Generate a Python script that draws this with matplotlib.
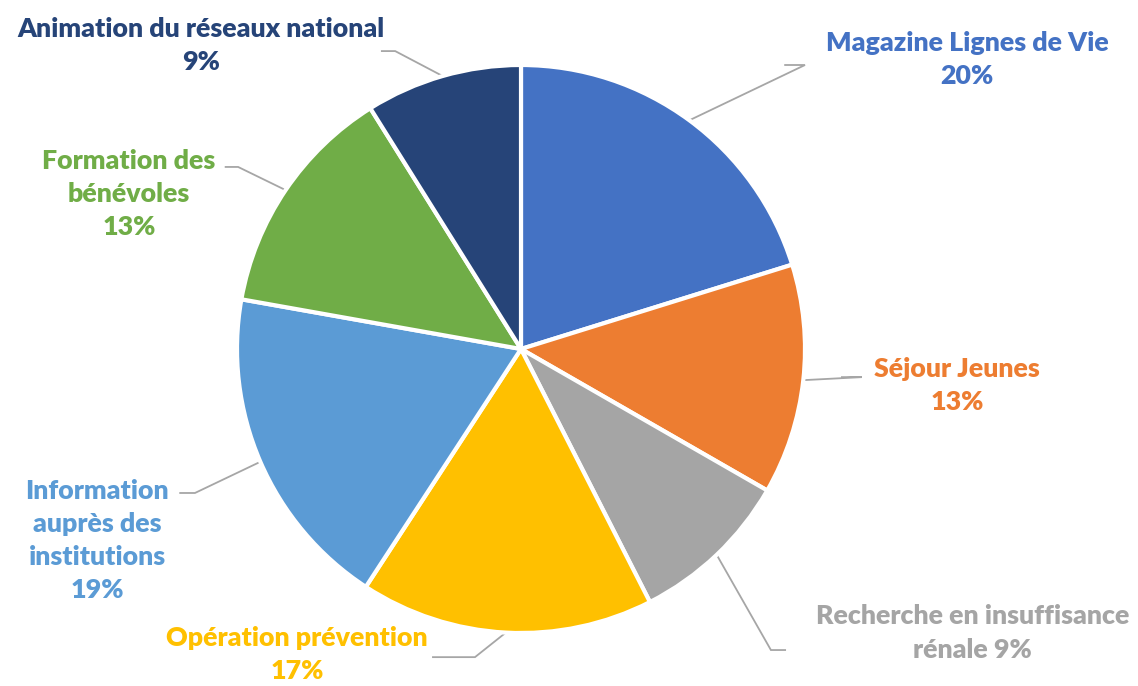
import matplotlib
matplotlib.use('Agg')
import matplotlib.pyplot as plt
import numpy as np

# Données (sens horaire depuis le haut)
categories = ['Magazine Lignes de Vie', 'Séjour Jeunes', 'Recherche en insuffisance\nrénale',
              'Opération prévention', 'Information\nauprès des\ninstitutions',
              'Formation des\nbénévoles', 'Animation du réseaux national']
values = [20.2, 13.1, 9.2, 16.7, 18.6, 13.3, 8.9]
pct_labels = ['20%', '13%', '9%', '17%', '19%', '13%', '9%']
colors = ['#4472C4', '#ED7D31', '#A5A5A5', '#FFC000', '#5B9BD5', '#70AD47', '#264478']

# mise en page des étiquettes (centre du texte, coude de la ligne de rappel)
label_pos = [(1.57, 1.02), (1.535, -0.127), (1.591, -1.0), (-0.789, -1.077),
             (-1.493, -0.676), (-1.380, 0.546), (-1.127, 1.070)]
elbow = [(1.0, 1.0), (1.20, -0.099), (0.88, -1.060), (-0.162, -1.085),
         (-1.148, -0.507), (-0.996, 0.641), (-0.443, 1.049)]
text_end = [(0.93, 1.0), (1.13, -0.099), (0.93, -1.060), (-0.31, -1.085),
            (-1.20, -0.507), (-1.04, 0.641), (-0.49, 1.049)]
single_line_pct = [False, False, True, False, False, False, False]

plt.rcParams['font.family'] = ['Lato', 'DejaVu Sans']

fig = plt.figure(figsize=(11.38, 6.86), dpi=100)
ax = fig.add_axes([0, 0, 1, 1])
wedges, _ = ax.pie(values, colors=colors, startangle=90, counterclock=False,
                   radius=1.0, wedgeprops=dict(edgecolor='white', linewidth=3))

for w, lab, pct, col, pos, el, te, one in zip(wedges, categories, pct_labels, colors,
                                             label_pos, elbow, text_end, single_line_pct):
    ang = np.deg2rad((w.theta1 + w.theta2) / 2)
    x0, y0 = w.r * np.cos(ang), w.r * np.sin(ang)
    ax.plot([x0, el[0], te[0]], [y0, el[1], te[1]], color='#A6A6A6', lw=1.3,
            solid_joinstyle='miter', zorder=0)
    txt = lab + (' ' if one else '\n') + pct
    ax.text(pos[0], pos[1], txt, color=col, fontsize=19.3, fontweight='heavy',
            ha='center', va='center', multialignment='center', linespacing=1.45)

ax.set_xlim(-521 / 284, (1138 - 521) / 284)
ax.set_ylim((349 - 686) / 284, 349 / 284)
ax.set_aspect('equal')
ax.axis('off')
fig.savefig('out.png', dpi=100)
